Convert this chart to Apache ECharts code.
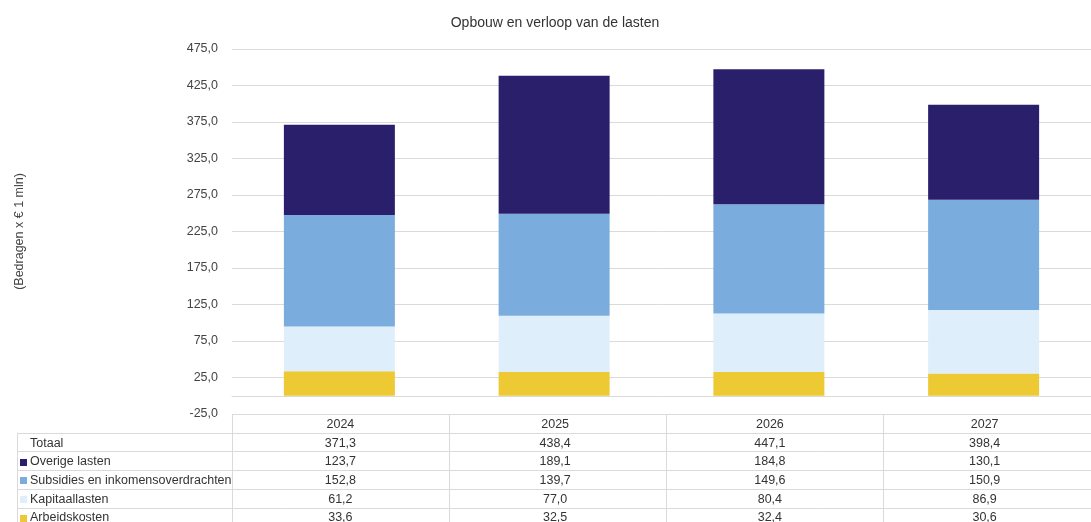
<!DOCTYPE html>
<html>
<head>
<meta charset="utf-8">
<script src="https://cdn.jsdelivr.net/npm/echarts@6/dist/echarts.min.js"></script>
<style>
  html, body { margin: 0; padding: 0; background: #fff; }
  #chart { width: 1091px; height: 522px; }
</style>
</head>
<body>
<div id="chart"></div>
<script>
// data (bedragen x € 1 mln)
var years = ['2024', '2025', '2026', '2027'];
var arbeidskosten = [33.6, 32.5, 32.4, 30.6];
var kapitaallasten = [61.2, 77.0, 80.4, 86.9];
var subsidies = [152.8, 139.7, 149.6, 150.9];
var overigeLasten = [123.7, 189.1, 184.8, 130.1];
var totaal = [371.3, 438.4, 447.1, 398.4];

var yMin = -25, yMax = 475, yStep = 50;

var colors = {
    overige: '#291f6b',
    subsidies: '#7aaddd',
    kapitaal: '#dfeefb',
    arbeid: '#edc934'
};

// rows of the data table under the chart, top to bottom
var tableRows = [
    { name: 'Totaal', values: totaal, color: null },
    { name: 'Overige lasten', values: overigeLasten, color: colors.overige },
    { name: 'Subsidies en inkomensoverdrachten', values: subsidies, color: colors.subsidies },
    { name: 'Kapitaallasten', values: kapitaallasten, color: colors.kapitaal },
    { name: 'Arbeidskosten', values: arbeidskosten, color: colors.arbeid }
];

var fmt = function (v) { return v.toFixed(1).replace('.', ','); };
var FONT = '12.5px "Liberation Sans", Arial, sans-serif';
var lineColor = '#dadada';

var gridLeft = 232, gridTop = 49, gridBottom = 108, gridWidth = 868;

var chart = echarts.init(document.getElementById('chart'));

function bar(name, data, color) {
    return {
        name: name,
        type: 'bar',
        stack: 'lasten',
        data: data,
        barWidth: 111,
        itemStyle: { color: color },
        silent: true
    };
}

chart.setOption({
    animation: false,
    textStyle: { fontFamily: '"Liberation Sans", Arial, sans-serif' },
    title: {
        text: 'Opbouw en verloop van de lasten',
        left: 550,
        textAlign: 'center',
        top: 11,
        textStyle: { fontSize: 14, fontWeight: 'normal', color: '#333' }
    },
    grid: { left: gridLeft, top: gridTop, bottom: gridBottom, width: gridWidth },
    xAxis: {
        type: 'category',
        data: years,
        axisLine: { onZero: true, lineStyle: { color: lineColor } },
        axisTick: { show: false },
        axisLabel: { show: false }
    },
    yAxis: {
        type: 'value',
        min: yMin,
        max: yMax,
        interval: yStep,
        name: '(Bedragen x € 1 mln)',
        nameLocation: 'middle',
        nameGap: 206,
        nameTextStyle: { fontSize: 12.5, color: '#444' },
        axisLine: { show: false },
        axisTick: { show: false },
        axisLabel: { formatter: fmt, color: '#444', fontSize: 12.5, margin: 14 },
        splitLine: { lineStyle: { color: lineColor } }
    },
    series: [
        bar('Arbeidskosten', arbeidskosten, colors.arbeid),
        bar('Kapitaallasten', kapitaallasten, colors.kapitaal),
        bar('Subsidies en inkomensoverdrachten', subsidies, colors.subsidies),
        bar('Overige lasten', overigeLasten, colors.overige)
    ]
});

// data table, laid out on the category axis columns
var tableTop = chart.convertToPixel({ yAxisIndex: 0 }, yMin);
var rowH = 18.7;
var catW = gridWidth / years.length;
var labelLeft = 17;
var right = gridLeft + gridWidth;
var els = [];

function hline(x1, x2, y) {
    y = Math.round(y) + 0.5;
    els.push({ type: 'line', silent: true, shape: { x1: x1, y1: y, x2: x2, y2: y }, style: { stroke: lineColor, lineWidth: 1 } });
}
function vline(x, y1, y2) {
    x = Math.round(x) + 0.5;
    els.push({ type: 'line', silent: true, shape: { x1: x, y1: y1, x2: x, y2: y2 }, style: { stroke: lineColor, lineWidth: 1 } });
}
function text(str, x, y, align) {
    els.push({
        type: 'text', silent: true, x: x, y: y,
        style: { text: str, font: FONT, fill: '#333', textAlign: align, textVerticalAlign: 'middle', align: align, verticalAlign: 'middle' }
    });
}

// header row with years
years.forEach(function (yr, i) {
    var cx = chart.convertToPixel({ xAxisIndex: 0 }, yr);
    text(yr, cx + 1, tableTop + rowH / 2 + 1, 'center');
    vline(gridLeft + i * catW, tableTop, 522);
});
vline(labelLeft, tableTop + rowH, 522);

tableRows.forEach(function (row, r) {
    var top = tableTop + rowH * (r + 1);
    hline(labelLeft, right, top);
    var cy = top + rowH / 2 + 1;
    if (row.color) {
        els.push({ type: 'rect', silent: true, shape: { x: 20, y: Math.round(cy) - 3, width: 7, height: 7 }, style: { fill: row.color } });
    }
    text(row.name, 30, cy, 'left');
    years.forEach(function (yr, i) {
        var cx = chart.convertToPixel({ xAxisIndex: 0 }, yr);
        text(fmt(row.values[i]), cx + 1, cy, 'center');
    });
});

chart.setOption({ graphic: { elements: els } });
</script>
</body>
</html>
